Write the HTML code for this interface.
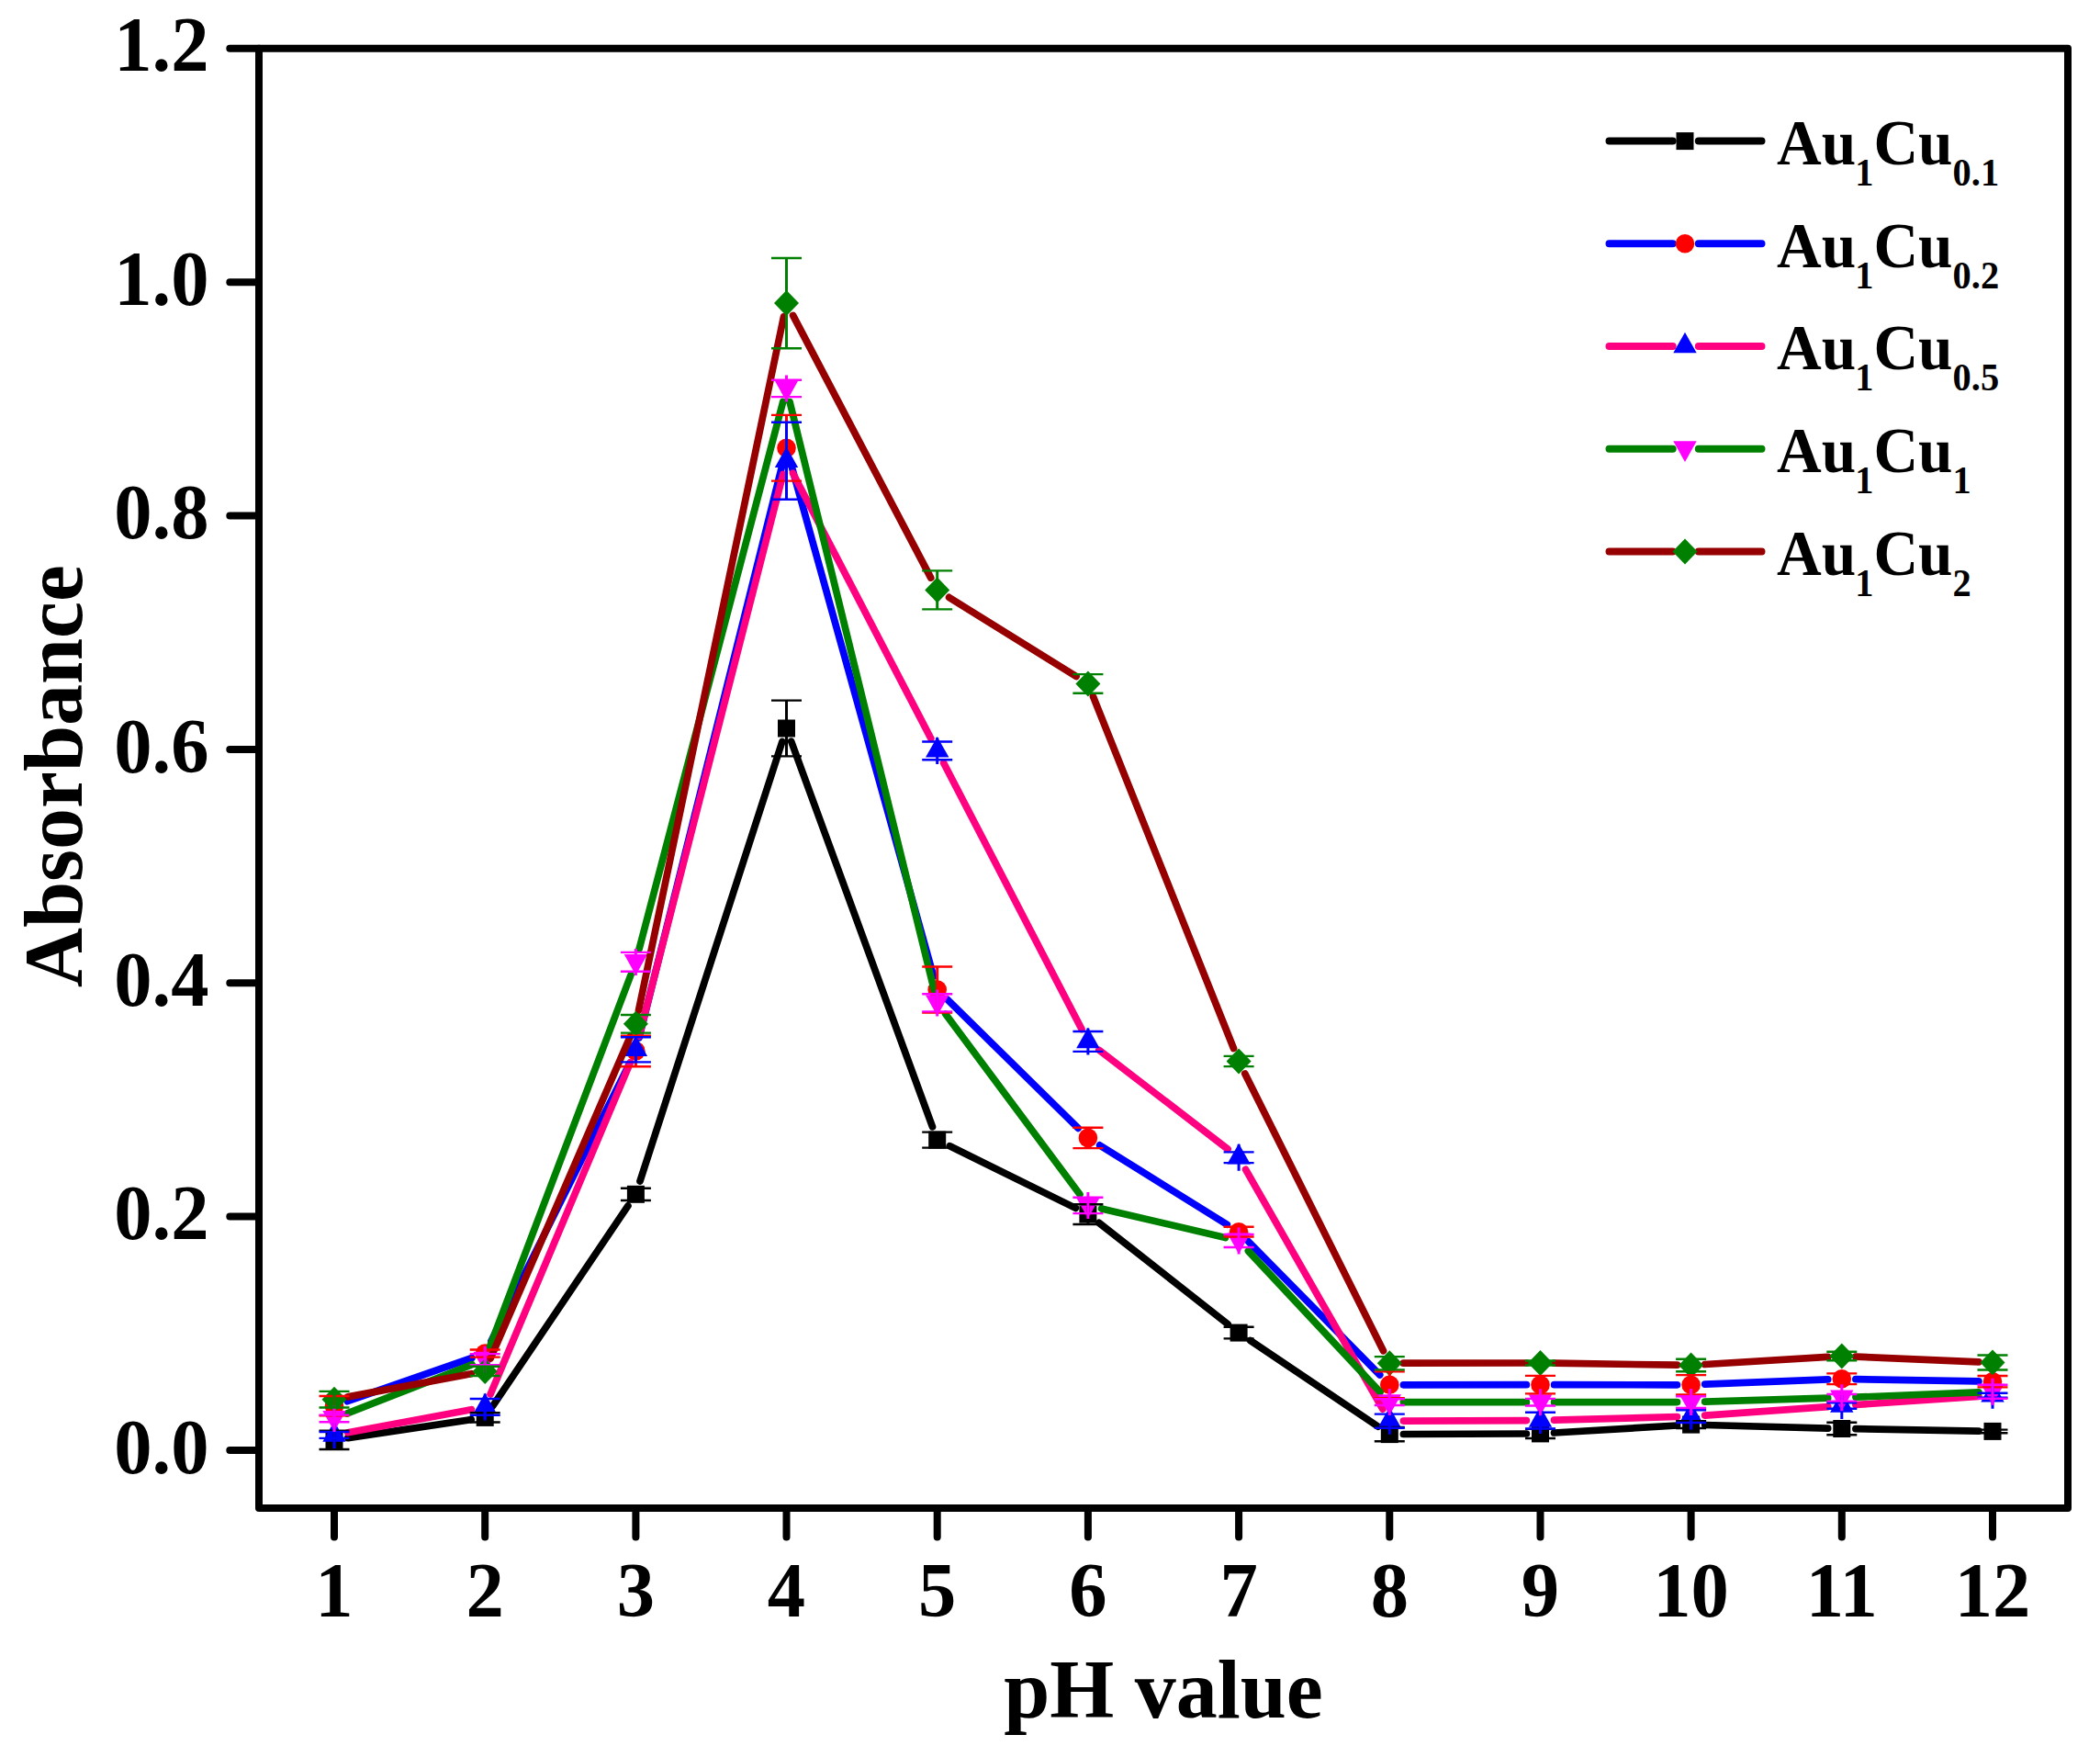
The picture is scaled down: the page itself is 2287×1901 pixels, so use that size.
<!DOCTYPE html>
<html lang="en">
<head>
<meta charset="utf-8">
<title>Absorbance vs pH value</title>
<style>
html,body{margin:0;padding:0;background:#fff;}
body{width:2287px;height:1901px;overflow:hidden;}
svg{display:block;}
text{font-family:"Liberation Serif",serif;font-weight:bold;fill:#000;}
.tk{font-size:84.7px;}
.ti{font-size:90px;}
.lg{font-size:70px;}
.sb{font-size:42px;}
</style>
</head>
<body>
<svg width="2287" height="1901" viewBox="0 0 2287 1901">
<rect x="0" y="0" width="2287" height="1901" fill="#ffffff"/>

<g>
<path d="M378.9 1565.6L513.2 1545.6M536.6 1530.9L683.9 1312.9M697.0 1286.0L851.9 807.4M861.7 807.2L1015.5 1226.9M1034.3 1247.8L1171.4 1315.4M1196.8 1331.4L1337.2 1441.7M1361.6 1459.5L1500.7 1553.1M1528.4 1561.5L1662.4 1561.0M1692.5 1560.0L1826.6 1552.0M1856.7 1551.5L1990.7 1555.1M2020.9 1555.7L2154.9 1558.1" fill="none" stroke="#000000" stroke-width="7.7" stroke-linecap="round"/>
<rect x="354.5" y="1558.3" width="19.0" height="19.0" fill="#000000"/>
<rect x="518.7" y="1533.9" width="19.0" height="19.0" fill="#000000"/>
<rect x="682.9" y="1290.8" width="19.0" height="19.0" fill="#000000"/>
<rect x="847.0" y="783.5" width="19.0" height="19.0" fill="#000000"/>
<rect x="1011.2" y="1231.6" width="19.0" height="19.0" fill="#000000"/>
<rect x="1175.4" y="1312.6" width="19.0" height="19.0" fill="#000000"/>
<rect x="1339.6" y="1441.6" width="19.0" height="19.0" fill="#000000"/>
<rect x="1503.8" y="1552.1" width="19.0" height="19.0" fill="#000000"/>
<rect x="1668.0" y="1551.4" width="19.0" height="19.0" fill="#000000"/>
<rect x="1832.1" y="1541.6" width="19.0" height="19.0" fill="#000000"/>
<rect x="1996.3" y="1546.0" width="19.0" height="19.0" fill="#000000"/>
<rect x="2160.5" y="1548.9" width="19.0" height="19.0" fill="#000000"/>
</g>
<g>
<path d="M378.3 1525.7L513.9 1478.5M534.9 1460.1L685.6 1157.9M696.0 1129.8L852.9 502.4M860.6 502.3L1016.7 1063.0M1031.5 1088.1L1174.1 1228.3M1197.7 1246.9L1336.3 1333.2M1359.7 1351.9L1502.7 1497.0M1528.4 1507.8L1662.4 1507.7M1692.6 1507.7L1826.5 1507.8M1856.7 1507.2L1990.7 1501.9M2020.9 1501.6L2154.9 1503.9" fill="none" stroke="#0000FF" stroke-width="7.7" stroke-linecap="round"/>
<circle cx="364.0" cy="1530.7" r="10.3" fill="#FF0000"/>
<circle cx="528.2" cy="1473.6" r="10.3" fill="#FF0000"/>
<circle cx="692.4" cy="1144.4" r="10.3" fill="#FF0000"/>
<circle cx="856.5" cy="487.8" r="10.3" fill="#FF0000"/>
<circle cx="1020.7" cy="1077.5" r="10.3" fill="#FF0000"/>
<circle cx="1184.9" cy="1238.9" r="10.3" fill="#FF0000"/>
<circle cx="1349.1" cy="1341.2" r="10.3" fill="#FF0000"/>
<circle cx="1513.3" cy="1507.8" r="10.3" fill="#FF0000"/>
<circle cx="1677.5" cy="1507.7" r="10.3" fill="#FF0000"/>
<circle cx="1841.6" cy="1507.8" r="10.3" fill="#FF0000"/>
<circle cx="2005.8" cy="1501.3" r="10.3" fill="#FF0000"/>
<circle cx="2170.0" cy="1504.2" r="10.3" fill="#FF0000"/>
</g>
<g>
<path d="M378.8 1559.7L513.3 1534.7M534.1 1518.0L686.5 1156.7M696.1 1128.1L852.8 516.4M863.5 515.2L1013.8 804.0M1027.7 830.8L1178.0 1120.6M1196.9 1143.2L1337.1 1251.1M1356.6 1273.4L1505.8 1534.1M1528.4 1547.1L1662.4 1546.6M1692.5 1546.2L1826.5 1542.5M1856.7 1541.1L1990.8 1531.6M2020.9 1529.5L2154.9 1520.3" fill="none" stroke="#FF0080" stroke-width="7.7" stroke-linecap="round"/>
<polygon points="364.0,1547.2 376.7,1569.7 351.3,1569.7" fill="#0000FF"/>
<polygon points="528.2,1516.6 540.9,1539.1 515.5,1539.1" fill="#0000FF"/>
<polygon points="692.4,1127.5 705.1,1150.0 679.7,1150.0" fill="#0000FF"/>
<polygon points="856.5,486.5 869.2,509.0 843.8,509.0" fill="#0000FF"/>
<polygon points="1020.7,802.1 1033.4,824.6 1008.0,824.6" fill="#0000FF"/>
<polygon points="1184.9,1118.7 1197.6,1141.2 1172.2,1141.2" fill="#0000FF"/>
<polygon points="1349.1,1245.0 1361.8,1267.5 1336.4,1267.5" fill="#0000FF"/>
<polygon points="1513.3,1531.9 1526.0,1554.4 1500.6,1554.4" fill="#0000FF"/>
<polygon points="1677.5,1531.3 1690.2,1553.8 1664.8,1553.8" fill="#0000FF"/>
<polygon points="1841.6,1526.8 1854.3,1549.3 1828.9,1549.3" fill="#0000FF"/>
<polygon points="2005.8,1515.2 2018.5,1537.7 1993.1,1537.7" fill="#0000FF"/>
<polygon points="2170.0,1503.9 2182.7,1526.4 2157.3,1526.4" fill="#0000FF"/>
</g>
<g>
<path d="M378.1 1538.9L514.1 1485.7M533.5 1466.1L687.0 1061.5M696.2 1032.8L852.7 437.5M860.1 437.6L1017.1 1077.2M1029.7 1104.0L1175.9 1300.3M1199.6 1315.9L1334.4 1347.5M1359.4 1362.0L1503.0 1515.6M1528.4 1526.6L1662.4 1526.7M1692.6 1526.7L1826.5 1526.6M1856.7 1526.2L1990.7 1522.2M2020.9 1521.2L2154.9 1515.8" fill="none" stroke="#008000" stroke-width="7.7" stroke-linecap="round"/>
<polygon points="364.0,1558.7 376.7,1536.0 351.3,1536.0" fill="#FF00FF"/>
<polygon points="528.2,1494.5 540.9,1471.8 515.5,1471.8" fill="#FF00FF"/>
<polygon points="692.4,1061.7 705.1,1039.0 679.7,1039.0" fill="#FF00FF"/>
<polygon points="856.5,437.2 869.2,414.5 843.8,414.5" fill="#FF00FF"/>
<polygon points="1020.7,1106.2 1033.4,1083.5 1008.0,1083.5" fill="#FF00FF"/>
<polygon points="1184.9,1326.7 1197.6,1304.0 1172.2,1304.0" fill="#FF00FF"/>
<polygon points="1349.1,1365.3 1361.8,1342.6 1336.4,1342.6" fill="#FF00FF"/>
<polygon points="1513.3,1540.9 1526.0,1518.2 1500.6,1518.2" fill="#FF00FF"/>
<polygon points="1677.5,1541.0 1690.2,1518.3 1664.8,1518.3" fill="#FF00FF"/>
<polygon points="1841.6,1540.9 1854.3,1518.2 1828.9,1518.2" fill="#FF00FF"/>
<polygon points="2005.8,1536.1 2018.5,1513.4 1993.1,1513.4" fill="#FF00FF"/>
<polygon points="2170.0,1529.5 2182.7,1506.8 2157.3,1506.8" fill="#FF00FF"/>
</g>
<g>
<path d="M378.8 1520.9L513.3 1495.7M534.2 1479.0L686.3 1128.6M695.5 1100.0L853.5 344.8M863.6 343.4L1013.7 629.1M1033.6 650.4L1172.1 736.5M1190.5 758.4L1343.5 1141.5M1355.8 1169.0L1506.5 1470.7M1528.4 1484.2L1662.4 1484.0M1692.6 1484.2L1826.5 1486.2M1856.7 1485.5L1990.7 1477.4M2020.9 1477.1L2154.9 1482.8" fill="none" stroke="#960000" stroke-width="7.7" stroke-linecap="round"/>
<polygon points="364.0,1509.7 377.5,1523.7 364.0,1537.7 350.5,1523.7" fill="#008000"/>
<polygon points="528.2,1478.9 541.7,1492.9 528.2,1506.9 514.7,1492.9" fill="#008000"/>
<polygon points="692.4,1100.8 705.9,1114.8 692.4,1128.8 678.9,1114.8" fill="#008000"/>
<polygon points="856.5,316.1 870.0,330.1 856.5,344.1 843.0,330.1" fill="#008000"/>
<polygon points="1020.7,628.4 1034.2,642.4 1020.7,656.4 1007.2,642.4" fill="#008000"/>
<polygon points="1184.9,730.4 1198.4,744.4 1184.9,758.4 1171.4,744.4" fill="#008000"/>
<polygon points="1349.1,1141.5 1362.6,1155.5 1349.1,1169.5 1335.6,1155.5" fill="#008000"/>
<polygon points="1513.3,1470.2 1526.8,1484.2 1513.3,1498.2 1499.8,1484.2" fill="#008000"/>
<polygon points="1677.5,1470.0 1691.0,1484.0 1677.5,1498.0 1664.0,1484.0" fill="#008000"/>
<polygon points="1841.6,1472.4 1855.1,1486.4 1841.6,1500.4 1828.1,1486.4" fill="#008000"/>
<polygon points="2005.8,1462.5 2019.3,1476.5 2005.8,1490.5 1992.3,1476.5" fill="#008000"/>
<polygon points="2170.0,1469.5 2183.5,1483.5 2170.0,1497.5 2156.5,1483.5" fill="#008000"/>
</g>
<g fill="none" stroke="#000000"><path d="M364.0 1557.6V1578.0M528.2 1538.3V1548.5M692.4 1293.7V1307.0M856.5 762.6V823.4M1020.7 1232.6V1249.6M1184.9 1311.2V1333.0M1349.1 1444.7V1457.4M1513.3 1553.9V1569.2M1677.5 1555.9V1566.0M1841.6 1547.3V1555.0M2005.8 1548.7V1562.2M2170.0 1556.6V1560.2" stroke-width="3.0"/><path d="M347.5 1557.6H380.5M347.5 1578.0H380.5M511.7 1538.3H544.7M511.7 1548.5H544.7M675.9 1293.7H708.9M675.9 1307.0H708.9M840.0 762.6H873.0M840.0 823.4H873.0M1004.2 1232.6H1037.2M1004.2 1249.6H1037.2M1168.4 1311.2H1201.4M1168.4 1333.0H1201.4M1332.6 1444.7H1365.6M1332.6 1457.4H1365.6M1496.8 1553.9H1529.8M1496.8 1569.2H1529.8M1661.0 1555.9H1694.0M1661.0 1566.0H1694.0M1825.1 1547.3H1858.1M1825.1 1555.0H1858.1M1989.3 1548.7H2022.3M1989.3 1562.2H2022.3M2153.5 1556.6H2186.5M2153.5 1560.2H2186.5" stroke-width="2.4"/></g>
<g fill="none" stroke="#FF0000"><path d="M364.0 1520.0V1541.4M528.2 1469.5V1477.6M692.4 1127.6V1161.2M856.5 451.9V523.6M1020.7 1052.5V1102.6M1184.9 1227.7V1250.1M1349.1 1335.8V1346.5M1513.3 1493.4V1522.1M1677.5 1497.9V1517.4M1841.6 1497.1V1518.5M2005.8 1495.4V1507.1M2170.0 1498.0V1510.4" stroke-width="3.0"/><path d="M347.5 1520.0H380.5M347.5 1541.4H380.5M511.7 1469.5H544.7M511.7 1477.6H544.7M675.9 1127.6H708.9M675.9 1161.2H708.9M840.0 451.9H873.0M840.0 523.6H873.0M1004.2 1052.5H1037.2M1004.2 1102.6H1037.2M1168.4 1227.7H1201.4M1168.4 1250.1H1201.4M1332.6 1335.8H1365.6M1332.6 1346.5H1365.6M1496.8 1493.4H1529.8M1496.8 1522.1H1529.8M1661.0 1497.9H1694.0M1661.0 1517.4H1694.0M1825.1 1497.1H1858.1M1825.1 1518.5H1858.1M1989.3 1495.4H2022.3M1989.3 1507.1H2022.3M2153.5 1498.0H2186.5M2153.5 1510.4H2186.5" stroke-width="2.4"/></g>
<g fill="none" stroke="#0000FF"><path d="M364.0 1548.0V1577.0M364.0 1559.0V1565.9M528.2 1517.4V1546.4M528.2 1523.0V1540.8M692.4 1128.3V1157.3M692.4 1129.2V1156.4M856.5 487.3V516.3M856.5 459.8V543.7M1020.7 802.9V831.9M1020.7 807.5V827.3M1184.9 1119.5V1148.5M1184.9 1123.0V1144.9M1349.1 1245.8V1274.8M1349.1 1254.4V1266.1M1513.3 1532.7V1561.7M1513.3 1539.6V1554.8M1677.5 1532.1V1561.1M1677.5 1537.7V1555.5M1841.6 1527.6V1556.6M1841.6 1535.2V1549.0M2005.8 1516.0V1545.0M2005.8 1527.2V1533.8M2170.0 1504.7V1533.7M2170.0 1516.7V1521.8" stroke-width="3.0"/><path d="M347.5 1559.0H380.5M347.5 1565.9H380.5M511.7 1523.0H544.7M511.7 1540.8H544.7M675.9 1129.2H708.9M675.9 1156.4H708.9M840.0 459.8H873.0M840.0 543.7H873.0M1004.2 807.5H1037.2M1004.2 827.3H1037.2M1168.4 1123.0H1201.4M1168.4 1144.9H1201.4M1332.6 1254.4H1365.6M1332.6 1266.1H1365.6M1496.8 1539.6H1529.8M1496.8 1554.8H1529.8M1661.0 1537.7H1694.0M1661.0 1555.5H1694.0M1825.1 1535.2H1858.1M1825.1 1549.0H1858.1M1989.3 1527.2H2022.3M1989.3 1533.8H2022.3M2153.5 1516.7H2186.5M2153.5 1521.8H2186.5" stroke-width="2.4"/></g>
<g fill="none" stroke="#FF00FF"><path d="M364.0 1529.9V1558.9M364.0 1540.6V1548.2M528.2 1465.7V1494.7M528.2 1474.1V1486.3M692.4 1032.9V1061.9M692.4 1036.9V1057.8M856.5 408.4V437.4M856.5 413.7V432.1M1020.7 1077.4V1106.4M1020.7 1082.3V1101.4M1184.9 1297.9V1326.9M1184.9 1303.8V1321.1M1349.1 1336.5V1365.5M1349.1 1344.0V1358.0M1513.3 1512.1V1541.1M1513.3 1523.2V1530.0M1677.5 1512.2V1541.2M1677.5 1522.9V1530.5M1841.6 1512.1V1541.1M1841.6 1520.2V1533.0M2005.8 1507.3V1536.3M2005.8 1518.0V1525.6M2170.0 1500.7V1529.7M2170.0 1507.7V1522.7" stroke-width="3.0"/><path d="M347.5 1540.6H380.5M347.5 1548.2H380.5M511.7 1474.1H544.7M511.7 1486.3H544.7M675.9 1036.9H708.9M675.9 1057.8H708.9M840.0 413.7H873.0M840.0 432.1H873.0M1004.2 1082.3H1037.2M1004.2 1101.4H1037.2M1168.4 1303.8H1201.4M1168.4 1321.1H1201.4M1332.6 1344.0H1365.6M1332.6 1358.0H1365.6M1496.8 1523.2H1529.8M1496.8 1530.0H1529.8M1661.0 1522.9H1694.0M1661.0 1530.5H1694.0M1825.1 1520.2H1858.1M1825.1 1533.0H1858.1M1989.3 1518.0H2022.3M1989.3 1525.6H2022.3M2153.5 1507.7H2186.5M2153.5 1522.7H2186.5" stroke-width="2.4"/></g>
<g fill="none" stroke="#008000"><path d="M364.0 1514.9V1532.5M528.2 1487.8V1498.0M692.4 1105.0V1124.6M856.5 281.0V379.2M1020.7 621.4V663.4M1184.9 734.1V754.7M1349.1 1149.9V1161.1M1513.3 1477.1V1491.4M1677.5 1481.5V1486.5M1841.6 1479.7V1493.2M2005.8 1471.7V1481.3M2170.0 1475.5V1491.5" stroke-width="3.0"/><path d="M347.5 1514.9H380.5M347.5 1532.5H380.5M511.7 1487.8H544.7M511.7 1498.0H544.7M675.9 1105.0H708.9M675.9 1124.6H708.9M840.0 281.0H873.0M840.0 379.2H873.0M1004.2 621.4H1037.2M1004.2 663.4H1037.2M1168.4 734.1H1201.4M1168.4 754.7H1201.4M1332.6 1149.9H1365.6M1332.6 1161.1H1365.6M1496.8 1477.1H1529.8M1496.8 1491.4H1529.8M1661.0 1481.5H1694.0M1661.0 1486.5H1694.0M1825.1 1479.7H1858.1M1825.1 1493.2H1858.1M1989.3 1471.7H2022.3M1989.3 1481.3H2022.3M2153.5 1475.5H2186.5M2153.5 1491.5H2186.5" stroke-width="2.4"/></g>
<rect x="282.0" y="52.8" width="1970.0" height="1589.1000000000001" fill="none" stroke="#000" stroke-width="8.0" stroke-linejoin="round"/>
<path d="M364.0 1641.9V1673.6M528.2 1641.9V1673.6M692.4 1641.9V1673.6M856.5 1641.9V1673.6M1020.7 1641.9V1673.6M1184.9 1641.9V1673.6M1349.1 1641.9V1673.6M1513.3 1641.9V1673.6M1677.5 1641.9V1673.6M1841.6 1641.9V1673.6M2005.8 1641.9V1673.6M2170.0 1641.9V1673.6M282.0 1579.0H250.3M282.0 1324.6H250.3M282.0 1070.3H250.3M282.0 815.9H250.3M282.0 561.5H250.3M282.0 307.2H250.3M282.0 52.8H250.3" fill="none" stroke="#000" stroke-width="8.0" stroke-linecap="round"/>
<text class="tk" transform="translate(364.0 1760.3) scale(0.976 1)" text-anchor="middle">1</text>
<text class="tk" transform="translate(528.2 1760.3) scale(0.976 1)" text-anchor="middle">2</text>
<text class="tk" transform="translate(692.4 1760.3) scale(0.976 1)" text-anchor="middle">3</text>
<text class="tk" transform="translate(856.5 1760.3) scale(0.976 1)" text-anchor="middle">4</text>
<text class="tk" transform="translate(1020.7 1760.3) scale(0.976 1)" text-anchor="middle">5</text>
<text class="tk" transform="translate(1184.9 1760.3) scale(0.976 1)" text-anchor="middle">6</text>
<text class="tk" transform="translate(1349.1 1760.3) scale(0.976 1)" text-anchor="middle">7</text>
<text class="tk" transform="translate(1513.3 1760.3) scale(0.976 1)" text-anchor="middle">8</text>
<text class="tk" transform="translate(1677.5 1760.3) scale(0.976 1)" text-anchor="middle">9</text>
<text class="tk" transform="translate(1841.6 1760.3) scale(0.976 1)" text-anchor="middle">10</text>
<text class="tk" transform="translate(2005.8 1760.3) scale(0.976 1)" text-anchor="middle">11</text>
<text class="tk" transform="translate(2170.0 1760.3) scale(0.976 1)" text-anchor="middle">12</text>
<text class="tk" transform="translate(227.5 1603.6) scale(0.976 1)" text-anchor="end">0.0</text>
<text class="tk" transform="translate(227.5 1349.2) scale(0.976 1)" text-anchor="end">0.2</text>
<text class="tk" transform="translate(227.5 1094.9) scale(0.976 1)" text-anchor="end">0.4</text>
<text class="tk" transform="translate(227.5 840.5) scale(0.976 1)" text-anchor="end">0.6</text>
<text class="tk" transform="translate(227.5 586.1) scale(0.976 1)" text-anchor="end">0.8</text>
<text class="tk" transform="translate(227.5 331.8) scale(0.976 1)" text-anchor="end">1.0</text>
<text class="tk" transform="translate(227.5 77.4) scale(0.976 1)" text-anchor="end">1.2</text>
<text class="ti" x="1267" y="1869.6" text-anchor="middle">pH value</text>
<text class="ti" transform="translate(89.3 845) rotate(-90)" text-anchor="middle">Absorbance</text>
<path d="M1752.5 153.6H1821.7M1849.8 153.6H1918.5" stroke="#000000" stroke-width="8" stroke-linecap="round" fill="none"/>
<rect x="1825.5" y="144.1" width="19.0" height="19.0" fill="#000000"/>
<text class="lg" transform="translate(1935 178.8) scale(0.963 1)">Au<tspan class="sb" dy="23" dx="-1">1</tspan><tspan dy="-23">Cu</tspan><tspan class="sb" dy="23">0.1</tspan></text>
<path d="M1752.5 265.3H1821.7M1849.8 265.3H1918.5" stroke="#0000FF" stroke-width="8" stroke-linecap="round" fill="none"/>
<circle cx="1835.0" cy="265.3" r="10.3" fill="#FF0000"/>
<text class="lg" transform="translate(1935 290.5) scale(0.963 1)">Au<tspan class="sb" dy="23" dx="-1">1</tspan><tspan dy="-23">Cu</tspan><tspan class="sb" dy="23">0.2</tspan></text>
<path d="M1752.5 377.0H1821.7M1849.8 377.0H1918.5" stroke="#FF0080" stroke-width="8" stroke-linecap="round" fill="none"/>
<polygon points="1835.0,361.7 1847.7,384.2 1822.3,384.2" fill="#0000FF"/>
<text class="lg" transform="translate(1935 402.2) scale(0.963 1)">Au<tspan class="sb" dy="23" dx="-1">1</tspan><tspan dy="-23">Cu</tspan><tspan class="sb" dy="23">0.5</tspan></text>
<path d="M1752.5 488.7H1821.7M1849.8 488.7H1918.5" stroke="#008000" stroke-width="8" stroke-linecap="round" fill="none"/>
<polygon points="1835.0,503.0 1847.7,480.3 1822.3,480.3" fill="#FF00FF"/>
<text class="lg" transform="translate(1935 513.9) scale(0.963 1)">Au<tspan class="sb" dy="23" dx="-1">1</tspan><tspan dy="-23">Cu</tspan><tspan class="sb" dy="23">1</tspan></text>
<path d="M1752.5 600.4H1821.7M1849.8 600.4H1918.5" stroke="#960000" stroke-width="8" stroke-linecap="round" fill="none"/>
<polygon points="1835.0,586.4 1848.5,600.4 1835.0,614.4 1821.5,600.4" fill="#008000"/>
<text class="lg" transform="translate(1935 625.6) scale(0.963 1)">Au<tspan class="sb" dy="23" dx="-1">1</tspan><tspan dy="-23">Cu</tspan><tspan class="sb" dy="23">2</tspan></text>
</svg>
</body>
</html>
